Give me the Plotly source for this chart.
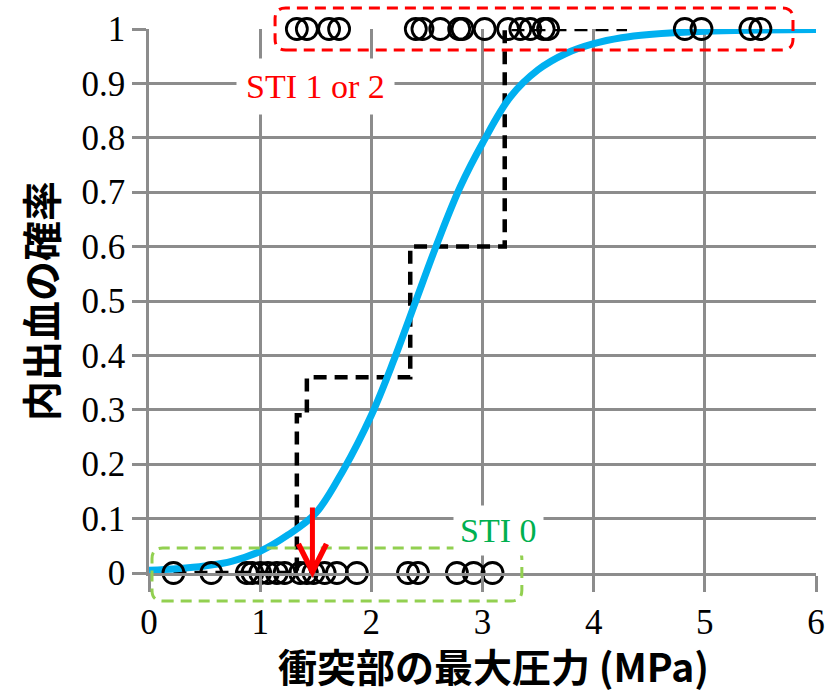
import plotly.graph_objects as go

# ---- data ----
sti12_pressure = [1.33, 1.42, 1.62, 1.71, 2.40, 2.46, 2.62, 2.79, 2.82, 3.02,
                  3.23, 3.34, 3.43, 3.55, 3.59, 4.82, 4.97, 5.41, 5.50]
sti0_pressure = [0.22, 0.56, 0.88, 0.93, 1.00, 1.07, 1.15, 1.22, 1.36, 1.42,
                 1.48, 1.58, 1.69, 1.87, 2.33, 2.42, 2.77, 2.92, 3.09]

step_x = [0.22, 1.33, 1.33, 1.42, 1.42, 2.35, 2.35, 3.20, 3.20, 4.30]
step_y = [0.0, 0.0, 0.29, 0.29, 0.36, 0.36, 0.60, 0.60, 1.00, 1.00]

curve_x = [0, 0.25, 0.5, 0.75, 1.0, 1.25, 1.5, 1.75, 2.0, 2.2, 2.4, 2.6, 2.8,
           3.0, 3.25, 3.5, 3.75, 4.0, 4.25, 4.5, 5.0, 5.5, 6.0]
curve_y = [0.005, 0.008, 0.013, 0.022, 0.04, 0.07, 0.11, 0.19, 0.29, 0.39, 0.50,
           0.61, 0.71, 0.79, 0.875, 0.925, 0.955, 0.973, 0.984, 0.99, 0.996,
           0.998, 0.999]

arrow_x = 1.47

x_ticks = [0, 1, 2, 3, 4, 5, 6]
y_ticks = [0, 0.1, 0.2, 0.3, 0.4, 0.5, 0.6, 0.7, 0.8, 0.9, 1]
y_ticktext = ["0", "0.1", "0.2", "0.3", "0.4", "0.5", "0.6", "0.7", "0.8", "0.9", "1"]

x_title = "衝突部の最大圧力\u00a0(MPa)"
y_title = "内出血の確率"

GRID = "#8c8c8c"
SERIF = "Times New Roman, Liberation Serif, serif"
CJK = "Noto Sans CJK JP, Noto Sans, sans-serif"

fig = go.Figure()

fig.add_trace(go.Scatter(
    x=step_x, y=step_y, mode="lines",
    line=dict(color="black", width=4.5, dash="13px,8px"),
    cliponaxis=False, showlegend=False))

fig.add_trace(go.Scatter(
    x=curve_x, y=curve_y, mode="lines", line_shape="spline",
    line=dict(color="#00b0f0", width=7),
    cliponaxis=False, showlegend=False))

fig.add_trace(go.Scatter(
    x=sti12_pressure, y=[1] * len(sti12_pressure), mode="markers",
    marker=dict(symbol="circle-open", size=21, color="black",
                line=dict(color="black", width=2.8)),
    cliponaxis=False, showlegend=False))

fig.add_trace(go.Scatter(
    x=sti0_pressure, y=[0] * len(sti0_pressure), mode="markers",
    marker=dict(symbol="circle-open", size=21, color="black",
                line=dict(color="black", width=2.8)),
    cliponaxis=False, showlegend=False))


def rounded_rect(x0, y0, x1, y1, rx, ry):
    return (f"M {x0+rx},{y0} L {x1-rx},{y0} Q {x1},{y0} {x1},{y0+ry} "
            f"L {x1},{y1-ry} Q {x1},{y1} {x1-rx},{y1} "
            f"L {x0+rx},{y1} Q {x0},{y1} {x0},{y1-ry} "
            f"L {x0},{y0+ry} Q {x0},{y0} {x0+rx},{y0} Z")


rx, ry = 0.016, 0.02
fig.add_shape(type="path", xref="paper", yref="paper",
              path=rounded_rect(0.189, 0.9614, 0.9655, 1.0386, rx, ry),
              line=dict(color="#ff0000", width=3, dash="11px,7px"),
              layer="above")
fig.add_shape(type="path", xref="paper", yref="paper",
              path=rounded_rect(0.0045, -0.0515, 0.559, 0.046, rx, ry),
              line=dict(color="#92d050", width=3, dash="11px,7px"),
              layer="above")

fig.add_annotation(x=1.50, y=0.895, xref="x", yref="y", text="STI 1 or 2",
                   showarrow=False, bgcolor="white", borderpad=9,
                   font=dict(family=SERIF, size=34, color="#ff0000"))
fig.add_annotation(x=3.14, y=0.078, xref="x", yref="y", text="STI 0",
                   showarrow=False, bgcolor="white", borderpad=6,
                   font=dict(family=SERIF, size=34, color="#00b050"))

fig.add_annotation(x=arrow_x, y=-0.009, xref="x", yref="paper", text="",
                   showarrow=True, ax=0, ay=-72, arrowhead=5, arrowsize=1.1,
                   arrowwidth=5, arrowcolor="#ff0000")

# x-axis title placed as a paper annotation for exact vertical position
fig.add_annotation(x=0.517, y=-0.17, xref="paper", yref="paper",
                   text=x_title, showarrow=False,
                   xanchor="center", yanchor="middle",
                   font=dict(family=CJK, size=39, color="black", weight="bold"))

fig.update_layout(
    width=829, height=697,
    margin=dict(l=149, r=13, t=29, b=124, autoexpand=False),
    paper_bgcolor="white", plot_bgcolor="white",
    showlegend=False,
)
fig.update_xaxes(
    range=[0, 6], tickvals=x_ticks, ticktext=[str(v) for v in x_ticks],
    automargin=False,
    showgrid=True, gridcolor=GRID, gridwidth=2.5,
    showline=True, linecolor=GRID, linewidth=2.5, zeroline=False,
    ticks="outside", ticklen=16, tickwidth=2.5, tickcolor=GRID,
    tickfont=dict(family=SERIF, size=35, color="black"),
)
fig.update_yaxes(
    range=[0, 1], tickvals=y_ticks, ticktext=y_ticktext,
    automargin=False,
    showgrid=True, gridcolor=GRID, gridwidth=2.5,
    showline=True, linecolor=GRID, linewidth=2.5, zeroline=False,
    ticks="outside", ticklen=14, tickwidth=2.5, tickcolor=GRID,
    tickfont=dict(family=SERIF, size=35, color="black"),
    title=dict(text=y_title, standoff=12,
               font=dict(family=CJK, size=40, color="black", weight="bold")),
)

fig.write_html(
    "out.html",
    config={"displayModeBar": False},
    post_script="document.body.style.margin='0';document.body.style.overflow='hidden';",
)
